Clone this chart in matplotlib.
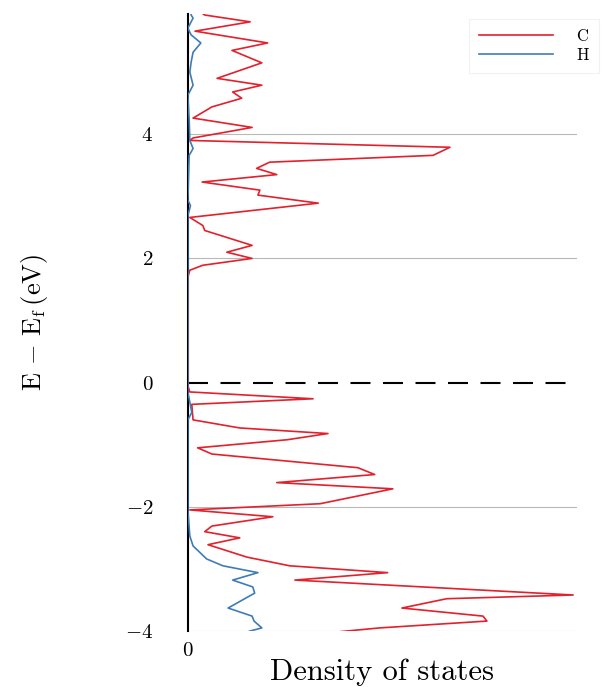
import matplotlib
matplotlib.use("Agg")
import matplotlib.pyplot as plt

plt.rcParams["font.family"] = ["cmr10", "DejaVu Serif"]
plt.rcParams["mathtext.fontset"] = "cm"
plt.rcParams["axes.formatter.use_mathtext"] = True

# Carbon projected DOS (energy in eV relative to E_f, arbitrary DOS units)
energy_c = [6.00, 5.92, 5.81, 5.66, 5.47, 5.35, 5.15, 4.90, 4.79, 4.68, 4.58,
            4.44, 4.26, 4.11, 3.94, 3.90, 3.79, 3.66, 3.55, 3.45, 3.35, 3.23,
            3.10, 3.02, 2.89, 2.66, 2.53, 2.45, 2.21, 2.10, 2.00, 1.89, 1.81,
            1.70, -0.05,
            -0.15, -0.26, -0.35, -0.60, -0.73, -0.82, -0.92, -1.05, -1.15,
            -1.37, -1.48, -1.61, -1.71, -1.95, -2.05, -2.16, -2.31, -2.40,
            -2.50, -2.61, -2.81, -2.95, -3.06, -3.18, -3.42, -3.48, -3.63,
            -3.76, -3.84, -3.95, -4.00, -4.06]
dos_c = [0.15, 0.26, 0.96, 0.11, 1.23, 0.68, 1.14, 0.45, 1.14, 0.69, 0.83,
         0.37, 0.08, 0.99, 0.08, 0.03, 4.04, 3.78, 1.26, 1.06, 1.37, 0.22,
         1.11, 1.08, 2.01, 0.03, 0.23, 0.26, 0.99, 0.60, 0.99, 0.23, 0.03,
         0.00, 0.00,
         0.03, 1.93, 0.06, 0.08, 0.80, 2.16, 1.53, 0.15, 0.37,
         2.62, 2.88, 1.37, 3.16, 2.04, 0.03, 1.31, 0.37, 0.26,
         0.80, 0.31, 0.91, 1.57, 3.08, 1.65, 5.94, 3.99, 3.30,
         4.55, 4.61, 2.96, 2.45, 1.90]

# Hydrogen projected DOS
energy_h = [6.00, 5.92, 5.87, 5.71, 5.60, 5.47, 5.32, 5.16, 5.00, 4.79, 4.63,
            4.23, 3.90, 3.77, 3.66, 2.94, 2.85, 2.69, 1.81, 1.70, -0.05,
            -0.15, -0.48, -0.60, -2.05, -2.47, -2.63, -2.84, -2.95, -3.06,
            -3.18, -3.29, -3.39, -3.63, -3.76, -3.84, -3.95, -4.00, -4.06]
dos_h = [0.04, 0.05, 0.08, 0.00, 0.05, 0.20, 0.08, 0.05, 0.03, 0.08, 0.00,
         0.02, 0.03, 0.08, 0.02, 0.00, 0.04, 0.00, 0.00, 0.00, 0.00,
         0.00, 0.06, 0.00, 0.00, 0.03, 0.08, 0.29, 0.54, 1.08,
         0.69, 1.00, 1.03, 0.62, 0.99, 1.02, 1.14, 0.96, 0.80]

y_ticks = [-4, -2, 0, 2, 4]
x_ticks = [0]

fig = plt.figure(figsize=(6.10, 6.87), dpi=100)
ax = fig.add_axes([0.308, 0.0815, 0.638, 0.898])

for t in y_ticks:
    if t != 0:
        ax.axhline(t, color="#b8b8b8", lw=0.8, zorder=1)
ax.axhline(0, color="black", lw=1.5, linestyle=(0, (9.6, 6)), zorder=2)

ax.plot(dos_c, energy_c, color="#e3202c", lw=1.2, label="C", zorder=3)
ax.plot(dos_h, energy_h, color="#3f7cb6", lw=1.2, label="H", zorder=4)

ax.set_xlim(0, 6.0)
ax.set_ylim(-4.0, 5.935)
ax.set_yticks(y_ticks)
ax.set_xticks(x_ticks)
ax.tick_params(axis="both", length=0, labelsize=15)
ax.tick_params(axis="y", pad=25)
ax.tick_params(axis="x", pad=8)

for side in ("top", "right", "bottom"):
    ax.spines[side].set_visible(False)
ax.spines["left"].set_linewidth(1.5)
ax.spines["left"].set_color("black")

ax.set_ylabel(r"$\mathrm{E}\,-\,\mathrm{E_f}\,(\mathrm{eV})$", fontsize=19)
ax.yaxis.set_label_coords(-0.355, 0.5)
ax.set_xlabel("Density of states", fontsize=22)
ax.xaxis.set_label_coords(0.5, -0.045)

leg = fig.legend(loc="upper right", bbox_to_anchor=(0.995, 0.985),
                 fontsize=12, handlelength=4.4, frameon=True,
                 borderpad=0.6, labelspacing=0.2, handletextpad=1.4)
leg.get_frame().set_edgecolor("#eeeeee")
leg.get_frame().set_linewidth(0.8)
leg.get_frame().set_boxstyle("square", pad=0)

fig.savefig("out.png", dpi=100)
